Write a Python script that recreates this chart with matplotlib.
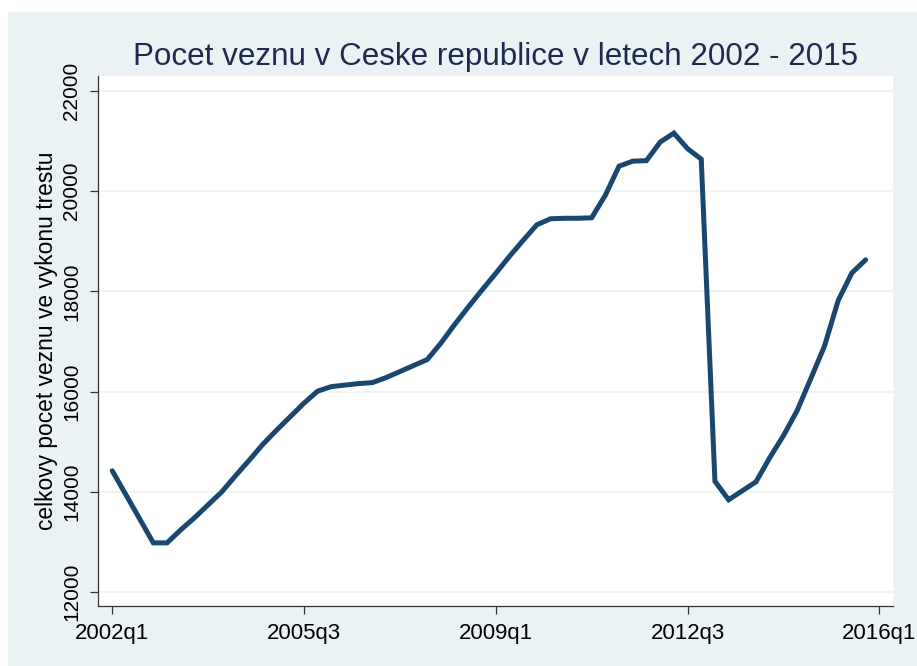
import matplotlib
matplotlib.use("Agg")
import matplotlib.pyplot as plt
from matplotlib.patches import Rectangle

# ---- data (quarterly, 2002q1 .. 2015q4) ----
start_year = 2002
prisoners = [
    14420, 13940, 13460, 12980,   # 2002
    12980, 13240, 13480, 13740,   # 2003
    14000, 14320, 14630, 14950,   # 2004
    15230, 15500, 15770, 16010,   # 2005
    16100, 16130, 16160, 16180,   # 2006
    16280, 16400, 16520, 16640,   # 2007
    16970, 17340, 17690, 18030,   # 2008
    18360, 18700, 19020, 19330,   # 2009
    19450, 19460, 19460, 19470,   # 2010
    19920, 20500, 20600, 20610,   # 2011
    20980, 21160, 20850, 20640,   # 2012
    14210, 13840, 14020, 14200,   # 2013
    14680, 15120, 15620, 16260,   # 2014
    16910, 17820, 18370, 18630,   # 2015
]
xtick_labels = ["2002q1", "2005q3", "2009q1", "2012q3", "2016q1"]
ytick_values = [12000, 14000, 16000, 18000, 20000, 22000]
title = "Pocet veznu v Ceske republice v letech 2002 - 2015"
ylabel = "celkovy pocet veznu ve vykonu trestu"


def quarter_index(lbl):
    y, q = lbl.split("q")
    return (int(y) - start_year) * 4 + int(q) - 1


x = list(range(len(prisoners)))
xticks = [quarter_index(l) for l in xtick_labels]

BG = "#EAF2F3"
LINE = "#1A476F"

plt.rcParams["font.family"] = ["Liberation Sans", "DejaVu Sans"]

fig = plt.figure(figsize=(9.17, 6.66), dpi=100)
fig.patch.set_facecolor("white")
fig.patches.append(Rectangle((8 / 917, 0.0), 1.0, 1 - 12 / 666,
                             transform=fig.transFigure, facecolor=BG,
                             edgecolor="none", zorder=-10))

ax = fig.add_axes([98 / 917, 1 - 606 / 666, (893 - 98) / 917, (606 - 76) / 666])
ax.set_facecolor("white")

ax.plot(x, prisoners, color=LINE, linewidth=3.6, solid_joinstyle="miter",
        solid_capstyle="round", zorder=3)

ax.set_xlim(-1.04, 57.0)
ax.set_ylim(11720, 22300)

ax.set_xticks(xticks)
ax.set_xticklabels(xtick_labels, fontsize=16)
ax.set_yticks(ytick_values)
ax.set_yticklabels([str(v) for v in ytick_values], rotation=90, va="center",
                   fontsize=15)

ax.grid(axis="y", color=BG, linewidth=1.2, zorder=0)
ax.grid(axis="x", visible=False)

for s in ["top", "right"]:
    ax.spines[s].set_visible(False)
for s in ["left", "bottom"]:
    ax.spines[s].set_color("#333333")
    ax.spines[s].set_linewidth(0.9)

ax.tick_params(axis="both", direction="out", length=6, width=0.9,
               color="#333333", labelcolor="black")
ax.tick_params(axis="y", pad=6)
ax.tick_params(axis="x", pad=6)

fig.text(495.5 / 917, 1 - 65 / 666, title, ha="center", va="baseline",
         fontsize=22.6, color="#1E2A4F")
fig.text(47 / 917, 1 - 341 / 666, ylabel, rotation=90, ha="center",
         va="center", fontsize=16.4, color="black")

fig.savefig("out.png", dpi=100, facecolor=fig.get_facecolor())
